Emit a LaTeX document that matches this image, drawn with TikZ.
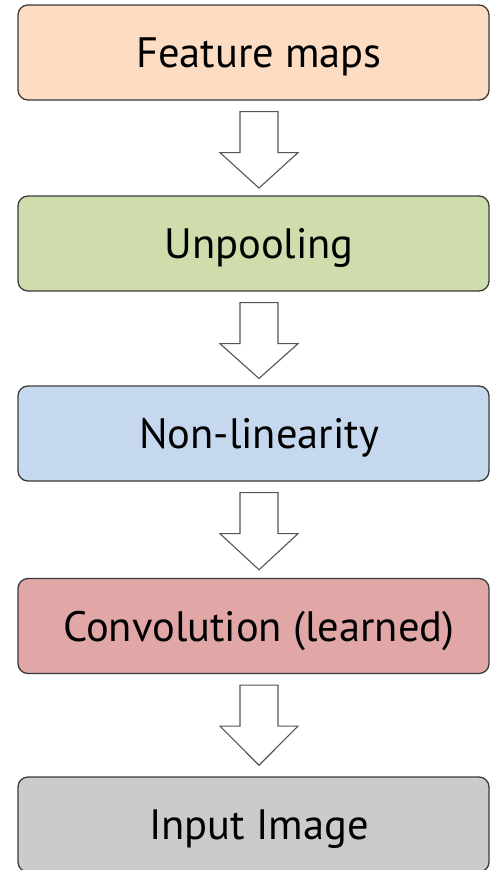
\documentclass[tikz,border=0pt]{standalone}
\usepackage{fontspec}
\setmainfont{PT Sans}
\usetikzlibrary{calc}
\definecolor{cpeach}{HTML}{FCDCC2}
\definecolor{cgreen}{HTML}{CEDDAB}
\definecolor{cblue}{HTML}{C5D8EE}
\definecolor{cred}{HTML}{E1A7A6}
\definecolor{cgray}{HTML}{CBCBCB}
\definecolor{boxline}{HTML}{3A3A3A}
\definecolor{arrline}{HTML}{555555}
\begin{document}
\begin{tikzpicture}[x=1pt,y=-1pt,
  box/.style={draw=boxline, line width=1.3pt, rounded corners=10pt,
    minimum width=471pt, minimum height=95pt, text height=30pt, text depth=0pt,
    inner sep=0pt, font=\fontsize{42.5}{42.5}\selectfont},
  flow/.style={draw=arrline, line width=1.1pt, fill=white, line join=miter}]
\useasboundingbox (0,0) rectangle (490,870);
\node[box, fill=cpeach] (fm) at (253.5,52.5) {\hspace*{11pt}Feature maps};
\node[box, fill=cgreen] (up) at (253.5,243.5) {\hspace*{11pt}Unpooling};
\node[box, fill=cblue] (nl) at (253.5,433.5) {\hspace*{11pt}Non-linearity};
\node[box, fill=cred] (cv) at (253.5,626) {\hspace*{11pt}Convolution (learned)};
\node[box, fill=cgray] (in) at (253.5,824.5) {\hspace*{11pt}Input Image};
\foreach \a/\b in {fm/up,up/nl,nl/cv,cv/in}{
  \draw[flow] ($(\a.south)+(-13.5,11)$) -- ($(\a.south)+(24.5,11)$)
    -- ($(\a.south)+(24.5,52)$) -- ($(\a.south)+(44.5,52)$)
    -- ($(\a.south)!0.5!(\b.north)+(5.5,40)$) coordinate (tip\a)
    -- ($(\a.south)+(-33.5,52)$) -- ($(\a.south)+(-13.5,52)$) -- cycle;
}
\end{tikzpicture}
\end{document}
